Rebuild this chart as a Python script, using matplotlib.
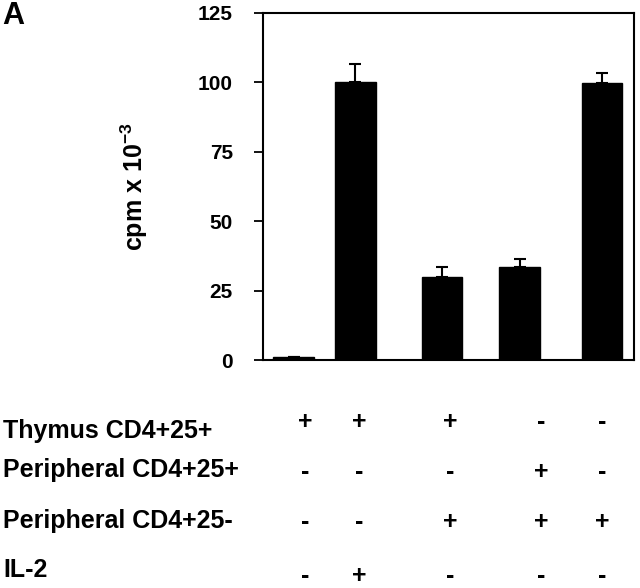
import matplotlib.pyplot as plt

plt.rcParams['font.family'] = ['Liberation Sans', 'DejaVu Sans']
plt.rcParams['font.weight'] = 'bold'
plt.rcParams['mathtext.fontset'] = 'custom'
plt.rcParams['mathtext.bf'] = 'Liberation Sans:bold'
plt.rcParams['mathtext.rm'] = 'Liberation Sans:bold'
plt.rcParams['mathtext.default'] = 'bf'

# data
cpm = [1.0, 100.0, 29.8, 33.4, 99.9]
err_up = [0.0, 6.5, 3.7, 2.9, 3.5]
conditions = ["Thymus CD4+25+", "Peripheral CD4+25+", "Peripheral CD4+25-", "IL-2"]
signs = [
    ["+", "+", "+", "-", "-"],
    ["-", "-", "-", "+", "-"],
    ["-", "-", "+", "+", "+"],
    ["-", "+", "-", "-", "-"],
]
yticks = [0, 25, 50, 75, 100, 125]

# layout (pixel positions in the 640x588 picture)
W, H = 640, 588
bar_x = [0.83, 2.49, 4.83, 6.92, 9.14]
col_x = [305, 359, 450, 541, 602]
label_base = [438, 477, 528, 577]
sign_base = [429, 479, 529, 583]

fig = plt.figure(figsize=(6.4, 5.88), dpi=100)
ax = fig.add_axes([262.7 / W, 1 - 360 / H, (634 - 262.7) / W, (360 - 13) / H])

ax.bar(bar_x, cpm, width=1.1, color='black', edgecolor='black', zorder=2)
ax.errorbar(bar_x, cpm, yerr=[[0] * len(cpm), err_up], fmt='none',
            ecolor='black', elinewidth=1.5, capsize=4.3, capthick=1.5, zorder=1)

ax.set_xlim(0, 10)
ax.set_ylim(0, 125)
ax.set_yticks(yticks)
ax.set_xticks([])
for s in ax.spines.values():
    s.set_linewidth(1.5)
ax.tick_params(axis='y', direction='out', length=6.5, width=1.3, pad=15, labelsize=15)
for t in ax.get_yticklabels():
    t.set_fontweight('bold')

ax.set_ylabel(r'cpm x 10$^{-3}$', fontsize=18, fontweight='bold')
ax.yaxis.set_label_coords(-0.303, 0.5)

fig.text(2 / W, 1 - 1 / H, 'A', fontsize=22, fontweight='bold', ha='left', va='top')

# condition table under the chart
for i, name in enumerate(conditions):
    fig.text(3 / W, 1 - label_base[i] / H, name, fontsize=18, fontweight='bold',
             ha='left', va='baseline')
    for j, s in enumerate(signs[i]):
        fig.text(col_x[j] / W, 1 - sign_base[i] / H, s, fontsize=18, fontweight='bold',
                 ha='center', va='baseline')

fig.savefig('out.png', dpi=100)
